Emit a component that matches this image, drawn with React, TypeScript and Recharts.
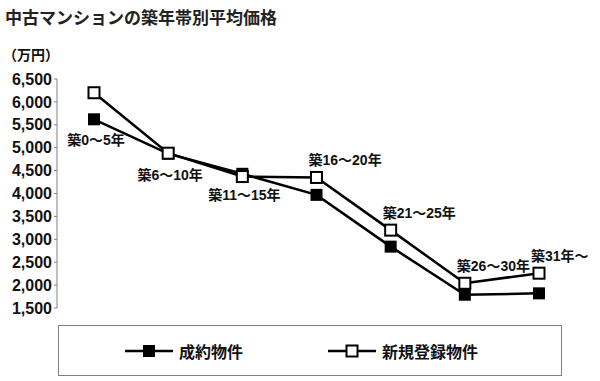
import { LineChart, Line, XAxis, YAxis, Legend, LabelList } from 'recharts';

const categories = ['築0～5年', '築6～10年', '築11～15年', '築16～20年', '築21～25年', '築26～30年', '築31年～'];
const contractPrices = [5620, 4870, 4430, 3970, 2840, 1790, 1820];
const listingPrices = [6200, 4880, 4370, 4350, 3200, 2040, 2260];
const yTicks = [1500, 2000, 2500, 3000, 3500, 4000, 4500, 5000, 5500, 6000, 6500];
const seriesNames = ['成約物件', '新規登録物件'];
// categories whose label sits under the point; the rest go above
const labelsBelow = 3;

const data = categories.map((category, i) => ({
  category,
  contract: contractPrices[i],
  listing: listingPrices[i],
}));

const jpFont = '"Liberation Sans", "Noto Sans CJK JP", sans-serif';
const axisGray = '#808080';

const FilledSquare = (props: any) => {
  const { cx, cy, index } = props;
  if (cx == null || cy == null) return <g key={index} />;
  return <rect key={index} x={cx - 6} y={cy - 6} width={12} height={12} fill="#000" />;
};

const OpenSquare = (props: any) => {
  const { cx, cy, index } = props;
  if (cx == null || cy == null) return <g key={index} />;
  return (
    <rect key={index} x={cx - 5.5} y={cy - 5.5} width={11} height={11} fill="#fff" stroke="#000" strokeWidth={2} />
  );
};

const pointOf = (props: any) => {
  const x = props.x ?? props.viewBox?.x;
  const y = props.y ?? props.viewBox?.y;
  return { x, y };
};

const belowLabel = (props: any) => {
  const { index } = props;
  if (index >= labelsBelow) return null;
  const { x, y } = pointOf(props);
  return (
    <text x={x + 2} y={y + 21} textAnchor="middle" dominantBaseline="central"
      fontSize={14} fontWeight="bold" fontFamily={jpFont} fill="#111">
      {categories[index]}
    </text>
  );
};

const aboveLabel = (props: any) => {
  const { index } = props;
  if (index < labelsBelow) return null;
  const { x, y } = pointOf(props);
  return (
    <text x={x - 8} y={y - 17} textAnchor="start" dominantBaseline="central"
      fontSize={14} fontWeight="bold" fontFamily={jpFont} fill="#111">
      {categories[index]}
    </text>
  );
};

const LegendBox = () => (
  <div style={{
    boxSizing: 'border-box', width: '100%', height: '100%', border: `1px solid ${axisGray}`,
    display: 'flex', alignItems: 'center', justifyContent: 'center', gap: 85, paddingRight: 17,
  }}>
    {seriesNames.map((name, i) => (
      <div key={name} style={{ display: 'flex', alignItems: 'center' }}>
        <svg width={48} height={14}>
          <line x1={0} y1={7} x2={48} y2={7} stroke="#000" strokeWidth={2.5} />
          {i === 0
            ? <rect x={18} y={1} width={12} height={12} fill="#000" />
            : <rect x={18.5} y={1.5} width={11} height={11} fill="#fff" stroke="#000" strokeWidth={2} />}
        </svg>
        <span style={{ marginLeft: 6, fontFamily: jpFont, fontWeight: 'bold', fontSize: 16, color: '#111' }}>
          {name}
        </span>
      </div>
    ))}
  </div>
);

export default function App() {
  return (
    <div style={{ position: 'fixed', left: 0, top: 0, width: 600, height: 381, background: '#fff' }}>
      <div style={{
        position: 'absolute', left: 5, top: 10, fontFamily: jpFont, fontWeight: 'bold',
        fontSize: 17, lineHeight: 1, color: '#222', whiteSpace: 'nowrap',
      }}>
        中古マンションの築年帯別平均価格
      </div>
      <div style={{
        position: 'absolute', left: 3, top: 48, fontFamily: jpFont, fontWeight: 'bold',
        fontSize: 14, lineHeight: 1, color: '#111',
      }}>
        （万円）
      </div>
      <LineChart width={600} height={381} data={data} margin={{ top: 79, right: 8, bottom: 73, left: 0 }}>
        <XAxis xAxisId="cat" dataKey="category" hide padding={{ left: 37, right: 53 }} />
        <XAxis xAxisId="grid" type="number" domain={[0, 7]} ticks={[1, 2, 3, 4, 5, 6]}
          allowDataOverflow padding={{ left: 0, right: 16 }} height={0} mirror tickSize={4}
          tickFormatter={() => ''} axisLine={{ stroke: axisGray }} tickLine={{ stroke: '#aaa' }} />
        <XAxis xAxisId="top" orientation="top" type="number" domain={[0, 1]} height={0}
          tick={false} tickLine={false} axisLine={{ stroke: axisGray }} />
        <YAxis domain={[1500, 6500]} ticks={yTicks} width={57} tickSize={3} tickMargin={2}
          tickFormatter={(v: number) => v.toLocaleString('en-US')} interval={0}
          axisLine={{ stroke: axisGray }} tickLine={{ stroke: axisGray }}
          tick={{ fontSize: 16, fontWeight: 'bold', fontFamily: jpFont, fill: '#111' }} />
        <YAxis yAxisId="right" orientation="right" width={0} domain={[0, 1]}
          tick={false} tickLine={false} axisLine={{ stroke: axisGray }} />
        <Legend verticalAlign="middle" align="center" content={() => <LegendBox />}
          wrapperStyle={{ left: 58, top: 325, width: 504, height: 51 }} />
        <Line xAxisId="cat" dataKey="contract" name={seriesNames[0]} stroke="#000" strokeWidth={2.5}
          dot={FilledSquare} activeDot={false} isAnimationActive={false}>
          <LabelList dataKey="contract" content={belowLabel} />
        </Line>
        <Line xAxisId="cat" dataKey="listing" name={seriesNames[1]} stroke="#000" strokeWidth={2.5}
          dot={OpenSquare} activeDot={false} isAnimationActive={false}>
          <LabelList dataKey="listing" content={aboveLabel} />
        </Line>
      </LineChart>
    </div>
  );
}
